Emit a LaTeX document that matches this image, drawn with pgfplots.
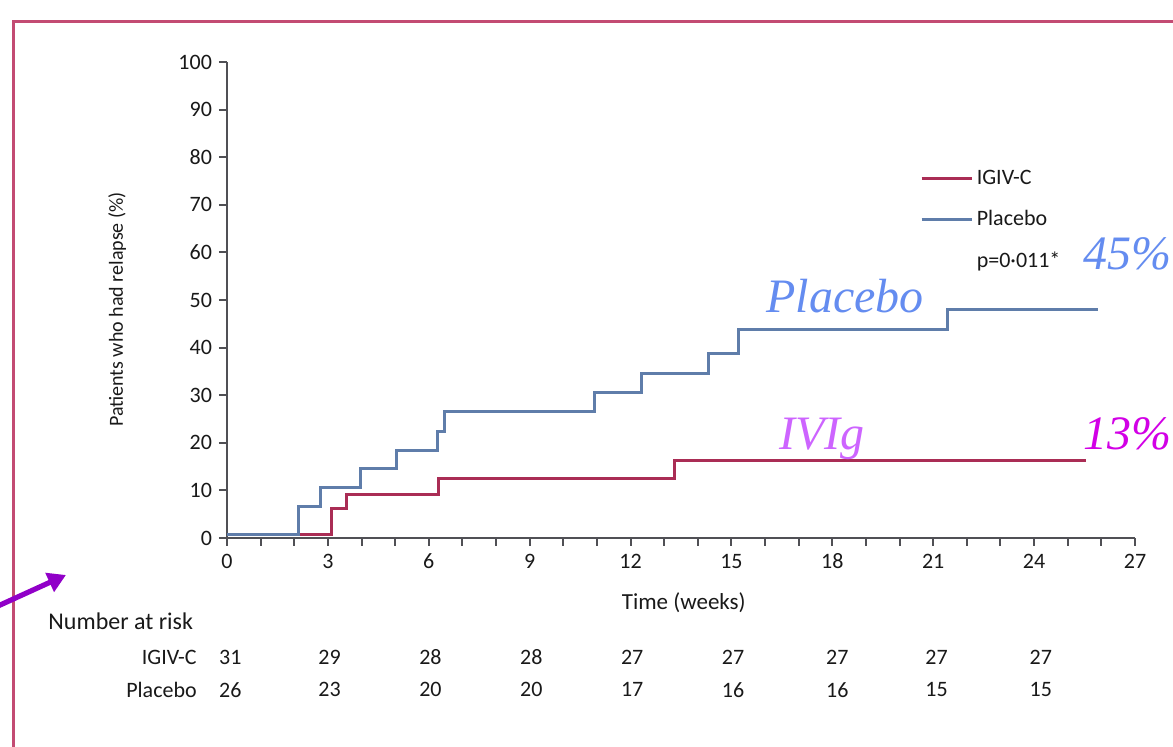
\documentclass[border=0pt]{standalone}
\usepackage{fontspec}
\setmainfont{Carlito}
\newfontfamily\timesf{Liberation Serif}
\usepackage{pgfplots}
\pgfplotsset{compat=1.18}
\usetikzlibrary{arrows.meta}
\definecolor{ivigred}{RGB}{170,45,85}
\definecolor{placblue}{RGB}{95,125,170}
\definecolor{axgray}{RGB}{80,80,85}
\definecolor{framerose}{RGB}{195,75,115}
\definecolor{arrowpurple}{RGB}{145,0,200}
\definecolor{annblue}{RGB}{100,140,240}
\definecolor{annviolet}{RGB}{205,100,255}
\definecolor{annmag}{RGB}{210,0,230}
\newcommand\px[2]{({(#1)*0.5pt},{(747-(#2))*0.5pt})}
\begin{document}
\begin{tikzpicture}
\useasboundingbox (0,0) rectangle (586.5pt,373.5pt);
\fill[white] (0,0) rectangle (586.5pt,373.5pt);
\draw[framerose, line width=1.5pt] \px{13}{752} -- \px{13}{22} -- \px{1180}{22};
\draw[arrowpurple, line width=2.6pt, -{Triangle[length=9pt,width=10pt]}] \px{-2}{606} -- \px{66}{575};
\begin{axis}[
  at={(113.5pt,104.5pt)}, anchor=south west,
  scale only axis, width=454pt, height=238pt,
  xmin=0, xmax=27, ymin=0, ymax=100,
  axis lines*=left,
  axis line style={axgray, line width=1.2pt},
  tick style={axgray, line width=1pt},
  tick align=outside, major tick length=4pt, minor tick length=4pt,
  xtick={0,3,...,27}, minor xtick={0,1,...,27},
  ytick={0,10,...,100},
  ticklabel style={font=\fontsize{11}{13}\selectfont, text=black!90},
  xticklabel style={text height=7.5pt, text depth=0pt},
  /pgf/number format/assume math mode=true,
  xlabel={Time (weeks)},
  xlabel style={at={(axis description cs:0.503,0)}, anchor=north, yshift=-24pt, font=\fontsize{11.5}{13}\selectfont, text=black!90},
  ylabel={Patients who had relapse (\%)},
  ylabel style={at={(axis description cs:-0.121,0.48)}, anchor=center, font=\fontsize{10}{12}\selectfont, text=black!90},
  clip=false,
  legend style={draw=none, fill=none, inner sep=0pt, row sep=7.6pt,
    font=\fontsize{11}{13}\selectfont, text=black!90,
    at={(axis description cs:0.763,0.782)}, anchor=north west},
  legend cell align=left,
  legend image code/.code={\draw[#1, line width=1.3pt] (0pt,0pt) -- (25pt,0pt);},
]
\addplot[const plot, color=ivigred, line width=1.5pt] coordinates {
(0,0.8) (3.11,6.2) (3.56,9.2) (6.28,12.5) (13.32,16.2) (25.54,16.2)};
\addlegendentry{IGIV-C}
\addplot[const plot, color=placblue, line width=1.5pt] coordinates {
(0,0.8) (2.12,6.6) (2.77,10.6) (3.97,14.6) (5.03,18.3) (6.26,22.3) (6.48,26.5) (10.94,30.5) (12.33,34.6) (14.31,38.8) (15.2,43.7) (21.42,47.9) (25.91,47.9)};
\addlegendentry{Placebo}
\addlegendimage{empty legend}
\addlegendentry{p=0·011*}

\node[anchor=base, font=\timesf\itshape\fontsize{24}{26}\selectfont, text=annblue] at (axis cs:18.38,47.3) {Placebo};
\node[anchor=base east, inner sep=0pt, font=\timesf\itshape\fontsize{24}{26}\selectfont, text=annblue] at (axis cs:28.1,56.3) {45\%};
\node[anchor=base, font=\timesf\itshape\fontsize{24}{26}\selectfont, text=annviolet] at (axis cs:17.69,18.5) {IVIg};
\node[anchor=base east, inner sep=0pt, font=\timesf\itshape\fontsize{24}{26}\selectfont, text=annmag] at (axis cs:28.1,18.5) {13\%};

\node[anchor=west, inner sep=0pt, font=\fontsize{12}{14}\selectfont, text=black!90] at (axis cs:-5.32,-17.4) {Number at risk};
\node[anchor=east, inner sep=0pt, font=\fontsize{11}{13}\selectfont, text=black!90] at (axis cs:-0.89,-25.0) {IGIV-C};
\node[anchor=east, inner sep=0pt, font=\fontsize{11}{13}\selectfont, text=black!90] at (axis cs:-0.89,-31.9) {Placebo};
\begin{scope}[every node/.style={font=\fontsize{11}{13}\selectfont, text=black!90, inner sep=0pt}]
\node at (axis cs:0.1,-25.0) {31};
\node at (axis cs:3.05,-25.0) {29};
\node at (axis cs:6.05,-25.0) {28};
\node at (axis cs:9.05,-25.0) {28};
\node at (axis cs:12.05,-25.0) {27};
\node at (axis cs:15.05,-25.0) {27};
\node at (axis cs:18.15,-25.0) {27};
\node at (axis cs:21.1,-25.0) {27};
\node at (axis cs:24.2,-25.0) {27};
\node at (axis cs:0.1,-31.9) {26};
\node at (axis cs:3.05,-31.9) {23};
\node at (axis cs:6.05,-31.9) {20};
\node at (axis cs:9.05,-31.9) {20};
\node at (axis cs:12.05,-31.9) {17};
\node at (axis cs:15.05,-31.9) {16};
\node at (axis cs:18.15,-31.9) {16};
\node at (axis cs:21.1,-31.9) {15};
\node at (axis cs:24.2,-31.9) {15};
\end{scope}
\end{axis}
\end{tikzpicture}
\end{document}
